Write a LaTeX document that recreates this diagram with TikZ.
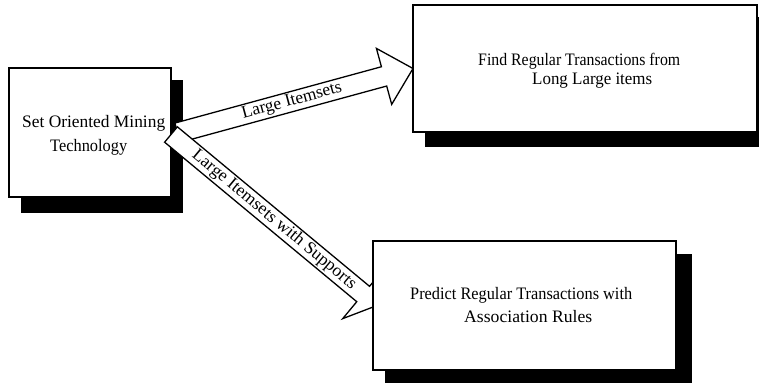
\documentclass[tikz,border=0pt]{standalone}
\usepackage{fontspec}
\setmainfont{Liberation Serif}
\usetikzlibrary{calc}
\pgfdeclarelayer{bg}
\pgfsetlayers{bg,main}
\tikzset{
  box/.style={draw=black, line width=1.4pt, fill=white, rectangle, inner sep=0pt, outer sep=0pt},
  shadowfill/.style={fill=black},
  arrowbody/.style={draw=black, line width=1.3pt, fill=white, line join=miter},
  boxtext/.style={anchor=base west, inner sep=0pt, font=\fontsize{17.5}{21}\selectfont},
  arrowtext/.style={inner sep=0pt, sloped, font=\fontsize{17.5}{21}\selectfont},
}
\newcommand\fitto[2]{\resizebox{#1pt}{\height}{#2}}
% start, tip, shaft half width, head half width, head length
\newcommand\blockarrow[5]{%
  \coordinate (ba-base) at ($(#2)!#5pt!(#1)$);
  \draw[arrowbody] ($(#1)!#3pt!90:(#2)$) -- ($(ba-base)!#3pt!90:(#2)$) -- ($(ba-base)!#4pt!90:(#2)$) -- (#2)
    -- ($(ba-base)!#4pt!-90:(#2)$) -- ($(ba-base)!#3pt!-90:(#2)$) -- ($(#1)!#3pt!-90:(#2)$) -- cycle;}
\begin{document}
\begin{tikzpicture}[x=1pt,y=-1pt]
\useasboundingbox (0,0) rectangle (759,383);
\clip (0,0) rectangle (759,383);
\begin{pgfonlayer}{bg}
\fill[white] (0,0) rectangle (759,383);
\end{pgfonlayer}

% box 1
\node[box, minimum width=162pt, minimum height=129pt] (b1) at (90,132.5) {};
\begin{pgfonlayer}{bg}
\fill[shadowfill] ($(b1.north west)+(12,12)$) rectangle ($(b1.south east)+(12,16)$);
\end{pgfonlayer}

% boxes 2 and 3 positions (drawn later)
\path (585,68.5) coordinate (c2) (524.5,305.5) coordinate (c3);

% arrow 1
\coordinate (a1s) at (177.6,132.7);
\coordinate (a1t) at (413,68.5);
\blockarrow{a1s}{a1t}{10}{29}{30}
\path (a1s) -- (a1t) node[arrowtext, pos=0.486] (l1) {\fitto{103}{Large Itemsets}};

% arrow 2
\coordinate (a2s) at (171,134.5);
\coordinate (a2t) at (377,305.5);
\blockarrow{a2s}{a2t}{10}{32}{18}
\path (a2s) -- (a2t) node[arrowtext, pos=0.5] (l2) {\fitto{208}{Large Itemsets with Supports}};

% box 2
\node[box, minimum width=344pt, minimum height=127pt] (b2) at (c2) {};
\begin{pgfonlayer}{bg}
\fill[shadowfill] ($(b2.north west)+(12,12)$) rectangle ($(b2.south east)+(13,15)$);
\end{pgfonlayer}

% box 3
\node[box, minimum width=303pt, minimum height=129pt] (b3) at (c3) {};
\begin{pgfonlayer}{bg}
\fill[shadowfill] ($(b3.north west)+(12,13)$) rectangle ($(b3.south east)+(16,13)$);
\end{pgfonlayer}

% texts
\node[boxtext] (t1a) at (22,127) {\fitto{143}{Set Oriented Mining}};
\node[boxtext] (t1b) at (50,151.5) {\fitto{77}{Technology}};
\node[boxtext] (t2a) at (478,65) {\fitto{202}{Find Regular Transactions from}};
\node[boxtext] (t2b) at (532,84.5) {\fitto{120}{Long Large items}};
\node[boxtext] (t3a) at (410,299) {\fitto{222}{Predict Regular Transactions with}};
\node[boxtext] (t3b) at (464,322) {\fitto{128}{Association Rules}};
\end{tikzpicture}
\end{document}
